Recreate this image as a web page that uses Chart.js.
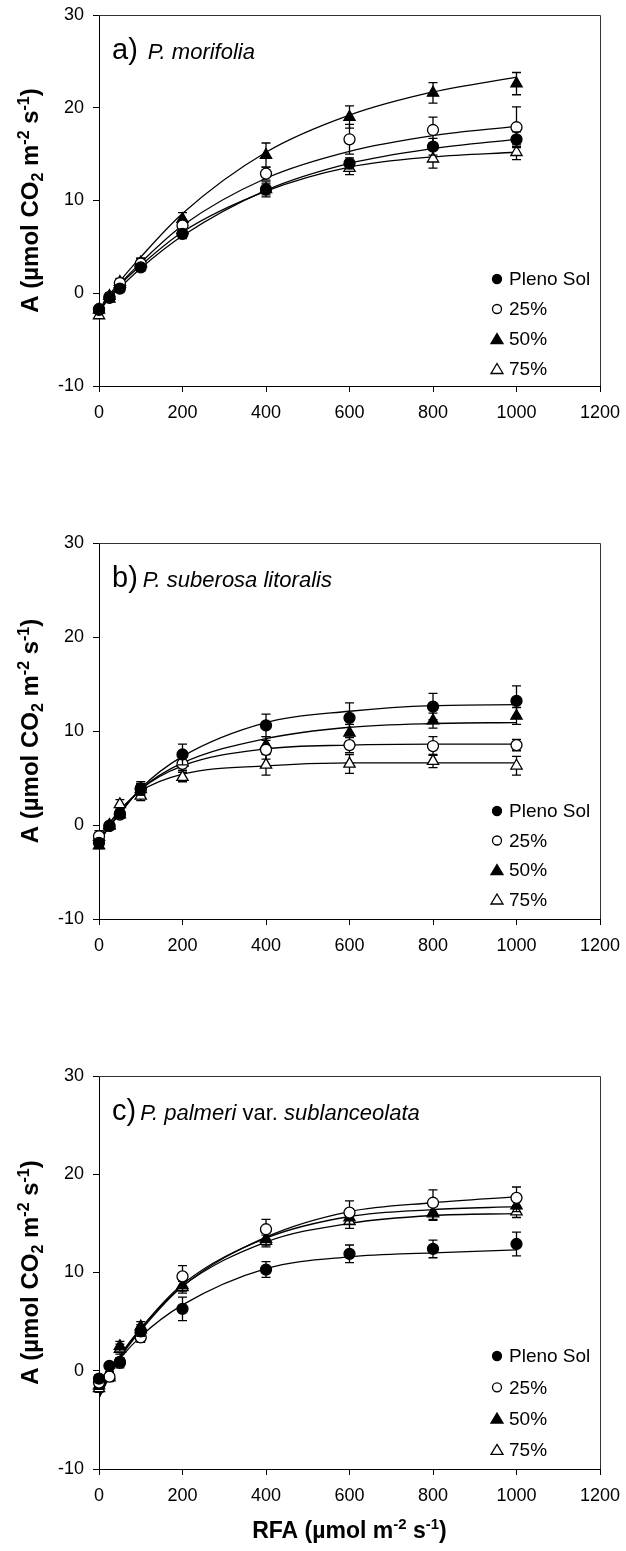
<!DOCTYPE html>
<html>
<head>
<meta charset="utf-8">
<script src="https://cdn.jsdelivr.net/npm/chart.js@4.4.1/dist/chart.umd.min.js"></script>
<style>
  body { margin: 0; background: #fff; }
  #wrap { position: relative; width: 626px; height: 1551px; }
  canvas { position: absolute; left: 0; }
</style>
</head>
<body>
<div id="wrap">
  <canvas id="chartA" width="626" height="480" style="top:0px"></canvas>
  <canvas id="chartB" width="626" height="530" style="top:480px"></canvas>
  <canvas id="chartC" width="626" height="541" style="top:1010px"></canvas>
</div>
<script>
const FONT = "'Liberation Sans', Arial, sans-serif";

// light levels (x) and series names
const rfa = [0, 25, 50, 100, 200, 400, 600, 800, 1000];
const seriesNames = ['Pleno Sol', '25%', '50%', '75%'];
const xTicks = [0, 200, 400, 600, 800, 1000, 1200];
const yTicks = [-10, 0, 10, 20, 30];

// a) P. morifolia - measured means
const aPleno = [-1.8, -0.5, 0.5, 2.8, 6.4, 11.2, 14.0, 15.8, 16.6];
const a25    = [-1.7, -0.4, 1.1, 3.2, 7.3, 12.9, 16.6, 17.6, 17.9];
const a50    = [-1.8, -0.3, 1.0, 3.2, 8.0, 14.9, 19.0, 21.6, 22.6];
const a75    = [-2.4, -0.6, 1.2, 3.3, 6.8, 11.2, 13.5, 14.5, 15.2];
// error bars
const aPlenoErr = [0.3, 0.3, 0.4, 0.4, 0.5, 0.6, 0.6, 0.9, 0.8];
const a25Err    = [0.3, 0.3, 0.4, 0.5, 0.6, 0.7, 1.6, 1.4, 2.2];
const a50Err    = [0.3, 0.3, 0.4, 0.5, 0.7, 1.3, 1.2, 1.1, 1.2];
const a75Err    = [0.3, 0.3, 0.4, 0.5, 0.5, 0.8, 0.7, 1.0, 0.8];
// fitted curves (at the same x)
const aPlenoFit = [-1.7, -0.5, 0.6, 2.7, 6.2, 11.1, 14.0, 15.6, 16.6];
const a25Fit    = [-1.7, -0.3, 1.0, 3.3, 7.3, 12.4, 15.3, 17.0, 18.0];
const a50Fit    = [-1.9, -0.2, 1.3, 3.9, 8.6, 15.2, 19.2, 21.7, 23.3];
const a75Fit    = [-2.0, -0.5, 0.9, 3.0, 6.6, 11.0, 13.6, 14.7, 15.2];

// b) P. suberosa litoralis
const bPleno = [-1.9, -0.1, 1.2, 3.9, 7.5, 10.6, 11.4, 12.6, 13.2];
const b25    = [-1.2, -0.1, 1.1, 3.8, 6.5, 8.0, 8.5, 8.4, 8.5];
const b50    = [-2.2, -0.1, 1.1, 3.8, 6.6, 8.5, 9.8, 11.1, 11.6];
const b75    = [-1.3, 0.0, 2.2, 3.1, 5.1, 6.4, 6.5, 6.8, 6.3];
const bPlenoErr = [0.3, 0.2, 0.4, 0.7, 1.1, 1.2, 1.6, 1.4, 1.6];
const b25Err    = [0.6, 0.2, 0.4, 0.6, 0.7, 1.0, 0.8, 1.0, 0.6];
const b50Err    = [0.3, 0.2, 0.4, 0.6, 0.8, 0.9, 0.9, 0.8, 0.9];
const b75Err    = [0.5, 0.2, 0.5, 0.5, 0.5, 1.1, 1.0, 0.7, 1.0];
const bPlenoFit = [-1.8, -0.2, 1.2, 3.9, 7.3, 10.9, 12.1, 12.7, 12.8];
const b25Fit    = [-1.6, -0.1, 1.3, 3.8, 6.3, 8.1, 8.5, 8.6, 8.6];
const b50Fit    = [-1.9, -0.1, 1.3, 3.8, 6.6, 9.2, 10.4, 10.8, 10.9];
const b75Fit    = [-1.4, 0.2, 1.6, 3.6, 5.4, 6.3, 6.6, 6.6, 6.6];

// c) P. palmeri var. sublanceolata
const cPleno = [-0.8, 0.5, 0.9, 4.0, 6.3, 10.3, 11.9, 12.4, 12.9];
const c25    = [-1.2, -0.6, 0.8, 3.4, 9.6, 14.4, 16.1, 17.1, 17.6];
const c50    = [-1.5, -0.7, 2.5, 4.5, 8.7, 13.4, 15.6, 16.1, 16.8];
const c75    = [-1.8, -0.5, 2.2, 4.2, 8.5, 13.2, 15.2, 16.0, 16.2];
const cPlenoErr = [0.4, 0.3, 0.4, 0.5, 1.2, 0.8, 0.9, 0.9, 1.2];
const c25Err    = [0.5, 0.4, 0.5, 0.5, 1.1, 1.0, 1.2, 1.3, 1.1];
const c50Err    = [0.4, 0.4, 0.5, 0.5, 0.6, 0.6, 0.7, 0.7, 0.6];
const c75Err    = [0.4, 0.4, 0.5, 0.5, 0.6, 0.6, 0.7, 0.7, 0.6];
const cPlenoFit = [-2.2, -0.3, 1.2, 3.5, 6.7, 10.4, 11.6, 12.0, 12.3];
const c25Fit    = [-2.8, -0.6, 1.3, 4.1, 8.6, 13.6, 16.2, 17.1, 17.7];
const c50Fit    = [-2.6, -0.5, 1.4, 4.3, 8.8, 13.5, 15.7, 16.4, 16.7];
const c75Fit    = [-2.5, -0.4, 1.5, 4.3, 8.6, 13.1, 15.0, 15.8, 16.0];

// marker look per series: filled circle, open circle, filled triangle, open triangle
const markerStyle = ['circle', 'circle', 'triangle', 'triangle'];
const markerFill = ['#000', '#fff', '#000', '#fff'];
const markerSize = [5.5, 5.5, 6.5, 6.5];

function pts(ys) {
    return rfa.map((x, i) => ({ x: x, y: ys[i] }));
}

// draws a list of text pieces left to right (handles super/subscripts)
function drawRich(ctx, parts, x, y, align) {
    let total = 0;
    parts.forEach(p => { ctx.font = p.f; total += ctx.measureText(p.t).width + (p.gap || 0); });
    let cx = align === 'center' ? x - total / 2 : x;
    ctx.textBaseline = 'alphabetic';
    ctx.textAlign = 'left';
    parts.forEach(p => {
        ctx.font = p.f;
        ctx.fillText(p.t, cx, y + (p.dy || 0));
        cx += ctx.measureText(p.t).width + (p.gap || 0);
    });
}

const yTitleParts = [
    { t: 'A (µmol CO', f: 'bold 24px ' + FONT },
    { t: '2', f: 'bold 16px ' + FONT, dy: 5 },
    { t: ' m', f: 'bold 24px ' + FONT },
    { t: '-2', f: 'bold 16px ' + FONT, dy: -9 },
    { t: ' s', f: 'bold 24px ' + FONT },
    { t: '-1', f: 'bold 16px ' + FONT, dy: -9 },
    { t: ')', f: 'bold 24px ' + FONT }
];
const xTitleParts = [
    { t: 'RFA (µmol m', f: 'bold 23px ' + FONT },
    { t: '-2', f: 'bold 15px ' + FONT, dy: -9 },
    { t: ' s', f: 'bold 23px ' + FONT },
    { t: '-1', f: 'bold 15px ' + FONT, dy: -9 },
    { t: ')', f: 'bold 23px ' + FONT }
];

const errorBars = {
    id: 'errorBars',
    beforeDatasetDraw(chart, args) {
        const ds = chart.data.datasets[args.index];
        if (!ds.errors) return;
        const ctx = chart.ctx;
        const xs = chart.scales.x, ys = chart.scales.y;
        ctx.save();
        ctx.strokeStyle = '#000';
        ctx.lineWidth = 1.3;
        ds.data.forEach((p, i) => {
            const e = ds.errors[i];
            const px = xs.getPixelForValue(p.x);
            const top = ys.getPixelForValue(p.y + e);
            const bot = ys.getPixelForValue(p.y - e);
            ctx.beginPath();
            ctx.moveTo(px, top); ctx.lineTo(px, bot);
            ctx.moveTo(px - 4.5, top); ctx.lineTo(px + 4.5, top);
            ctx.moveTo(px - 4.5, bot); ctx.lineTo(px + 4.5, bot);
            ctx.stroke();
        });
        ctx.restore();
    }
};

const decorations = {
    id: 'decorations',
    afterDraw(chart, args, opts) {
        const ctx = chart.ctx;
        const a = chart.chartArea;
        ctx.save();
        // frame top and right
        ctx.strokeStyle = '#333';
        ctx.lineWidth = 1;
        ctx.beginPath();
        ctx.moveTo(a.left, a.top + 0.5);
        ctx.lineTo(a.right + 0.5, a.top + 0.5);
        ctx.lineTo(a.right + 0.5, a.bottom);
        ctx.stroke();

        ctx.fillStyle = '#000';
        // panel title
        drawRich(ctx, opts.title, a.left + 13, a.top + 44, 'left');

        // y axis title
        ctx.save();
        ctx.translate(30, (a.top + a.bottom) / 2);
        ctx.rotate(-Math.PI / 2);
        drawRich(ctx, yTitleParts, 0, 8, 'center');
        ctx.restore();

        if (opts.xTitle) {
            drawRich(ctx, xTitleParts, (a.left + a.right) / 2, a.bottom + 69, 'center');
        }

        // legend
        const lx = a.right - 103;
        seriesNames.forEach((name, i) => {
            const ly = a.bottom - opts.legendBottom + i * opts.legendStep;
            ctx.beginPath();
            if (markerStyle[i] === 'circle') {
                ctx.arc(lx, ly, 4.5, 0, Math.PI * 2);
            } else {
                ctx.moveTo(lx, ly - 5.5);
                ctx.lineTo(lx + 6, ly + 4.5);
                ctx.lineTo(lx - 6, ly + 4.5);
                ctx.closePath();
            }
            ctx.fillStyle = markerFill[i];
            ctx.fill();
            ctx.strokeStyle = '#000';
            ctx.lineWidth = 1.3;
            ctx.stroke();
            ctx.fillStyle = '#000';
            ctx.font = '19px ' + FONT;
            ctx.textBaseline = 'middle';
            ctx.textAlign = 'left';
            ctx.fillText(name, lx + 12, ly + 1);
        });
        ctx.restore();
    }
};

function makePanel(canvasId, padTop, padBottom, title, means, errs, fits, legendBottom, legendStep, xTitle) {
    const datasets = [];
    // markers first so they sit on top of the curves
    means.forEach((m, i) => {
        datasets.push({
            label: seriesNames[i],
            data: pts(m),
            errors: errs[i],
            showLine: false,
            pointStyle: markerStyle[i],
            pointRadius: markerSize[i],
            pointBackgroundColor: markerFill[i],
            pointBorderColor: '#000',
            pointBorderWidth: 1.3,
            clip: false,
            order: 1
        });
    });
    fits.forEach((f, i) => {
        datasets.push({
            label: seriesNames[i] + ' fit',
            data: pts(f),
            showLine: true,
            pointRadius: 0,
            borderColor: '#000',
            borderWidth: 1.3,
            cubicInterpolationMode: 'monotone',
            fill: false,
            order: 2
        });
    });

    return new Chart(document.getElementById(canvasId), {
        type: 'scatter',
        data: { datasets: datasets },
        options: {
            responsive: false,
            animation: false,
            devicePixelRatio: 1,
            layout: { padding: { top: padTop, bottom: padBottom, left: 39, right: 26 } },
            scales: {
                x: {
                    type: 'linear',
                    min: 0, max: 1200,
                    afterBuildTicks: s => { s.ticks = xTicks.map(v => ({ value: v })); },
                    afterFit: s => { s.height = 40; s.paddingLeft = 0; s.paddingRight = 0; },
                    grid: { display: true, drawOnChartArea: false, drawTicks: true, tickLength: 6, color: '#000' },
                    border: { display: true, color: '#000', width: 1 },
                    ticks: { font: { family: FONT, size: 18 }, color: '#000', padding: 10, maxRotation: 0,
                             callback: v => String(v) }
                },
                y: {
                    type: 'linear',
                    min: -10, max: 30,
                    afterBuildTicks: s => { s.ticks = yTicks.map(v => ({ value: v })); },
                    afterFit: s => { s.width = 60; s.paddingTop = 0; s.paddingBottom = 0; },
                    grid: { display: true, drawOnChartArea: false, drawTicks: true, tickLength: 6, color: '#000' },
                    border: { display: true, color: '#000', width: 1 },
                    ticks: { font: { family: FONT, size: 18 }, color: '#000', padding: 9,
                             callback: v => String(v) }
                }
            },
            plugins: {
                legend: { display: false },
                tooltip: { enabled: false },
                decorations: { title: title, legendBottom: legendBottom, legendStep: legendStep, xTitle: xTitle }
            }
        },
        plugins: [errorBars, decorations]
    });
}

makePanel('chartA', 15, 54,
    [{ t: 'a)', f: '29px ' + FONT, gap: 10 }, { t: 'P. morifolia', f: 'italic 22px ' + FONT }],
    [aPleno, a25, a50, a75], [aPlenoErr, a25Err, a50Err, a75Err], [aPlenoFit, a25Fit, a50Fit, a75Fit],
    107, 30, false);

makePanel('chartB', 63, 51,
    [{ t: 'b)', f: '29px ' + FONT, gap: 5 }, { t: 'P. suberosa litoralis', f: 'italic 22px ' + FONT }],
    [bPleno, b25, b50, b75], [bPlenoErr, b25Err, b50Err, b75Err], [bPlenoFit, b25Fit, b50Fit, b75Fit],
    108, 29.5, false);

makePanel('chartC', 66, 42,
    [{ t: 'c)', f: '29px ' + FONT, gap: 4 }, { t: 'P. palmeri', f: 'italic 22px ' + FONT },
     { t: ' var. ', f: '22px ' + FONT }, { t: 'sublanceolata', f: 'italic 22px ' + FONT }],
    [cPleno, c25, c50, c75], [cPlenoErr, c25Err, c50Err, c75Err], [cPlenoFit, c25Fit, c50Fit, c75Fit],
    113, 31.3, true);
</script>
</body>
</html>
